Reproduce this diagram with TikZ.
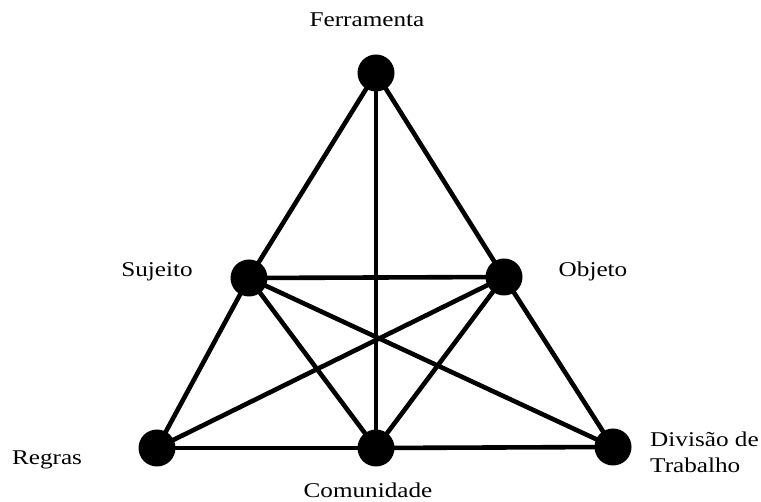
\documentclass[tikz,border=0pt]{standalone}
\usepackage{fontspec}
\setmainfont{Liberation Serif}
\begin{document}
\begin{tikzpicture}[x=1pt,y=-1pt,
  dot/.style={circle,fill=black,inner sep=0pt,minimum size=37pt},
  edge/.style={line width=4.6pt,line cap=round},
  lbl/.style={font=\fontsize{21}{26}\selectfont,inner sep=0pt,xscale=1.2,transform shape}]
\useasboundingbox (0,0) rectangle (761,502);
\node[dot] (F) at (376,73) {};
\node[dot] (S) at (249,278) {};
\node[dot] (O) at (504,277) {};
\node[dot] (R) at (157,448) {};
\node[dot] (C) at (376,448) {};
\node[dot] (D) at (613,447) {};
\foreach \a/\b in {F/S,F/O,F/C,S/O,S/R,S/C,S/D,O/R,O/C,O/D,R/C,C/D}
  \draw[edge] (\a.center) -- (\b.center);
\node[lbl,anchor=base] (lF) at (367,27) {Ferramenta};
\node[lbl,anchor=base] (lS) at (157,277) {Sujeito};
\node[lbl,anchor=base] (lO) at (593,277) {Objeto};
\node[lbl,anchor=base] (lR) at (47,465) {Regras};
\node[lbl,anchor=base] (lC) at (368,498) {Comunidade};
\node[lbl,anchor=base west] (lD1) at (650,447) {Divisão de};
\node[lbl,anchor=base west] (lD2) at (650,473) {Trabalho};
\end{tikzpicture}
\end{document}
